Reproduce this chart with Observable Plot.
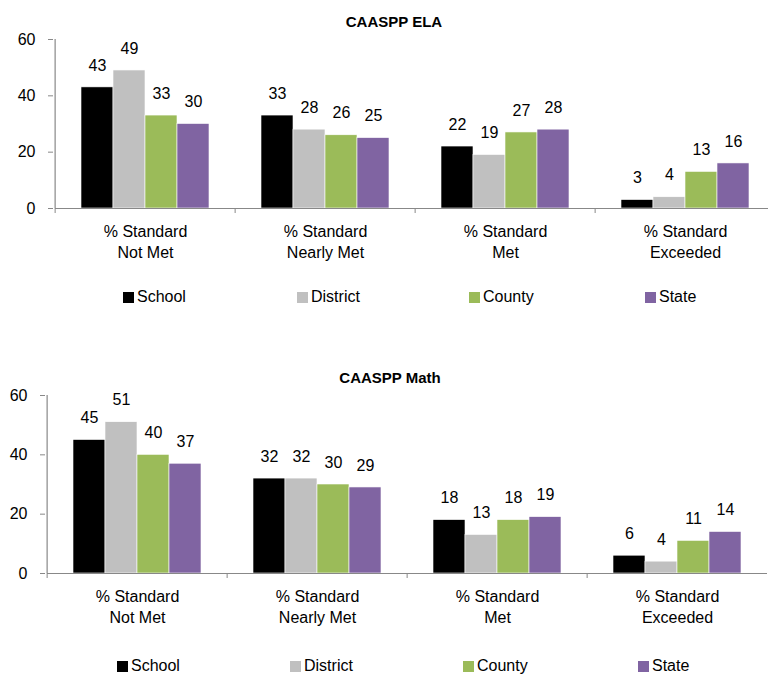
<!DOCTYPE html>
<html>
<head>
<meta charset="utf-8">
<script src="https://cdn.jsdelivr.net/npm/d3@7"></script>
<script src="https://cdn.jsdelivr.net/npm/@observablehq/plot@0.6"></script>
<style>
  html, body { margin: 0; padding: 0; background: #fff; }
  #root { position: relative; width: 768px; height: 674px; overflow: hidden; font-family: "Liberation Sans", Arial, sans-serif; color: #000; }
  .title { position: absolute; font-weight: bold; font-size: 15px; line-height: 1; transform: translateX(-50%); white-space: nowrap; }
  .chart { position: absolute; left: 0; }
  .legend-item { position: absolute; font-size: 16px; line-height: 16px; display: flex; align-items: center; white-space: nowrap; }
  .legend-item span.sw { display: inline-block; width: 11px; height: 11px; margin-right: 3px; }
</style>
</head>
<body>
<div id="root"></div>
<script>
const categories = ["% Standard\nNot Met", "% Standard\nNearly Met", "% Standard\nMet", "% Standard\nExceeded"];
const series = ["School", "District", "County", "State"];
const colors = ["#000000", "#c0c0c0", "#9bbb59", "#8064a2"];
const yTicks = [0, 20, 40, 60];

const elaSchool   = [43, 33, 22, 3];
const elaDistrict = [49, 28, 19, 4];
const elaCounty   = [33, 26, 27, 13];
const elaState    = [30, 25, 28, 16];

const mathSchool   = [45, 32, 18, 6];
const mathDistrict = [51, 32, 13, 4];
const mathCounty   = [40, 30, 18, 11];
const mathState    = [37, 29, 19, 14];

function toRows(arrs) {
  const rows = [];
  categories.forEach((c, i) => {
    series.forEach((s, j) => rows.push({cat: c, series: s, value: arrs[j][i]}));
  });
  return rows;
}

const root = document.getElementById("root");
const xPadOuter = 0.76;
const fontStyle = {fontFamily: "'Liberation Sans', Arial, sans-serif", fontSize: "16px", background: "transparent", overflow: "visible", color: "#000"};

function addChart({rows, title, titleX, titleTop, top, height, marginTop, marginBottom, marginLeft, marginRight, legendTop, legendLefts}) {
  const width = 768;
  const step = (width - marginLeft - marginRight) / categories.length;
  const t = document.createElement("div");
  t.className = "title";
  t.textContent = title;
  t.style.left = titleX + "px";
  t.style.top = titleTop + "px";
  root.appendChild(t);

  const svg = Plot.plot({
    width, height, marginTop, marginBottom, marginLeft, marginRight,
    style: fontStyle,
    fx: {domain: categories, padding: 0, label: null},
    x: {domain: series, paddingInner: 0, paddingOuter: xPadOuter, axis: null},
    y: {domain: [0, 60], axis: null},
    color: {domain: series, range: colors},
    marks: [
      Plot.barY(rows, {fx: "cat", x: "series", y: "value", fill: "series", stroke: "#ffffff", strokeWidth: 0.6}),
      Plot.ruleY([0], {stroke: "#888888", strokeWidth: 1.2}),
      Plot.ruleX([0], {facetAnchor: "left", x: null, dx: -step / 2, stroke: "#888888", strokeWidth: 1.2}),
      Plot.text(rows, {fx: "cat", x: "series", y: "value", text: d => String(d.value), dy: -22, fontSize: 16, fill: "#000"}),
      Plot.axisFx({anchor: "bottom", tickSize: 0, tickPadding: 14, lineHeight: 1.3, fill: "#000", label: null, fontSize: 16}),
      Plot.axisFx({anchor: "bottom", tickSize: 5, fill: "none", stroke: "#888888", dx: -step / 2, label: null})
    ]
  });
  svg.classList.add("chart");
  svg.style.top = top + "px";
  root.appendChild(svg);

  const ysvg = Plot.plot({
    width, height, marginTop, marginBottom, marginLeft, marginRight,
    style: fontStyle,
    x: {domain: [0, 1], axis: null},
    y: {domain: [0, 60], axis: null},
    marks: [
      Plot.axisY({ticks: yTicks, tickSize: 5, tickPadding: 13, stroke: "#888888", fill: "#000", label: null, fontSize: 16})
    ]
  });
  ysvg.classList.add("chart");
  ysvg.style.top = top + "px";
  root.appendChild(ysvg);

  series.forEach((s, j) => {
    const item = document.createElement("div");
    item.className = "legend-item";
    item.style.left = legendLefts[j] + "px";
    item.style.top = legendTop + "px";
    const sw = document.createElement("span");
    sw.className = "sw";
    sw.style.background = colors[j];
    item.appendChild(sw);
    item.appendChild(document.createTextNode(s));
    root.appendChild(item);
  });
}

addChart({
  rows: toRows([elaSchool, elaDistrict, elaCounty, elaState]),
  title: "CAASPP ELA", titleX: 394, titleTop: 13.5,
  top: 0, height: 270, marginTop: 39, marginBottom: 62, marginLeft: 53, marginRight: -8,
  legendTop: 289, legendLefts: [123, 297, 469, 645]
});

addChart({
  rows: toRows([mathSchool, mathDistrict, mathCounty, mathState]),
  title: "CAASPP Math", titleX: 390, titleTop: 370,
  top: 356, height: 270, marginTop: 39, marginBottom: 53, marginLeft: 45, marginRight: 0,
  legendTop: 658, legendLefts: [117, 290, 463, 638]
});
</script>
</body>
</html>
